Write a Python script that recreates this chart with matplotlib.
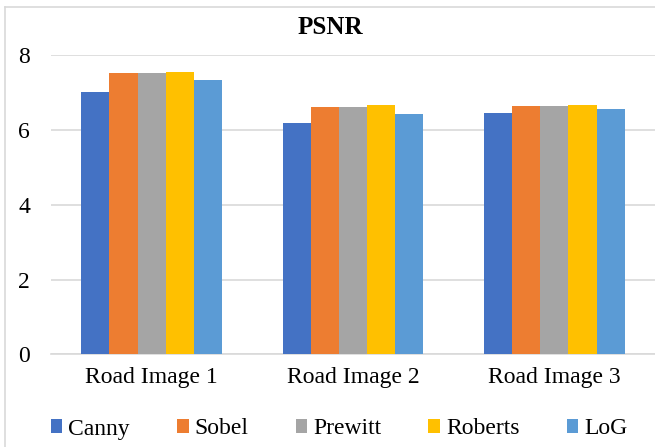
import numpy as np
import matplotlib.pyplot as plt
from matplotlib.lines import Line2D

images = ['Road Image 1', 'Road Image 2', 'Road Image 3']
methods = ['Canny', 'Sobel', 'Prewitt', 'Roberts', 'LoG']
canny = [7.02, 6.20, 6.45]
sobel = [7.52, 6.61, 6.64]
prewitt = [7.52, 6.61, 6.64]
roberts = [7.54, 6.66, 6.66]
log = [7.35, 6.42, 6.56]
colors = ['#4472C4', '#ED7D31', '#A5A5A5', '#FFC000', '#5B9BD5']

plt.rcParams['font.family'] = ['Liberation Serif', 'DejaVu Serif']

fig = plt.figure(figsize=(6.55, 4.47), dpi=100)
ax = fig.add_axes([51/655, 1 - 354.3/447, 1 - 51/655, (354.3 - 55.3)/447])

series = [canny, sobel, prewitt, roberts, log]
x = np.arange(len(images))
w = 0.14
for i, (vals, c) in enumerate(zip(series, colors)):
    ax.bar(x + (i - 2) * w, vals, w, color=c, label=methods[i], zorder=3)

ax.set_xlim(-0.5, 2.5)
ax.set_ylim(0, 8)
ax.set_yticks([0, 2, 4, 6, 8])
ax.set_xticks(x)
ax.set_xticklabels(images)
ax.tick_params(axis='both', length=0, labelsize=17)
ax.tick_params(axis='y', pad=15)
ax.tick_params(axis='x', pad=9)
ax.grid(axis='y', color='#D9D9D9', linewidth=1.2, zorder=0)
for s in ['top', 'right', 'left']:
    ax.spines[s].set_visible(False)
ax.spines['bottom'].set_color('#D9D9D9')
ax.spines['bottom'].set_linewidth(1.2)

fig.text(330/655, 1 - 28/447, 'PSNR', ha='center', va='center',
         fontsize=18, fontweight='bold')

fig.legend(loc='center', bbox_to_anchor=(339/655, 1 - 429/447), ncol=5,
           frameon=False, fontsize=17, handlelength=0.5, handleheight=0.5,
           handletextpad=0.24, columnspacing=2.0)

# light border around the chart area
fig.add_artist(Line2D([5/655, 5/655], [0, 1 - 7/447], color='#D9D9D9', linewidth=1.2))
fig.add_artist(Line2D([5/655, 1], [1 - 7/447, 1 - 7/447], color='#D9D9D9', linewidth=1.2))

fig.savefig('out.png', dpi=100)
